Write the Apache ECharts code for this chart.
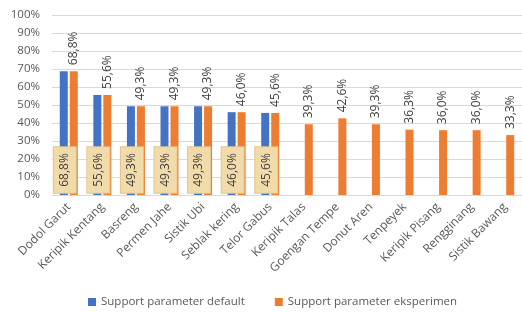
<!DOCTYPE html>
<html><head><meta charset="utf-8">
<script src="https://cdn.jsdelivr.net/npm/echarts@6/dist/echarts.min.js"></script>
<style>html,body{margin:0;padding:0;background:#fff}#c{width:522px;height:314px}</style>
</head><body><div id="c"></div>
<script>
var categories = ["Dodol Garut","Keripik Kentang","Basreng","Permen Jahe","Sistik Ubi","Seblak kering","Telor Gabus","Keripik Talas","Goengan Tempe","Donut Aren","Tenpeyek","Keripik Pisang","Rengginang","Sistik Bawang"];
var defaultValues = [68.8,55.6,49.3,49.3,49.3,46.0,45.6,null,null,null,null,null,null,null];
var experimentValues = [68.8,55.6,49.3,49.3,49.3,46.0,45.6,39.3,42.6,39.3,36.3,36.0,36.0,33.3];
var yTicks = [0,10,20,30,40,50,60,70,80,90,100];
var seriesNames = ["Support parameter default","Support parameter eksperimen"];

function fmt(v){ return v.toFixed(1).replace('.', ',') + '%'; }
var FONT = 'Open Sans';
var chart = echarts.init(document.getElementById('c'));
chart.setOption({
  animation: false,
  textStyle: {fontFamily: FONT},
  grid: {left: 52, right: -4, top: 15, bottom: 119, containLabel: false},
  legend: {
    top: 291, left: 83, itemWidth: 8, itemHeight: 8, itemGap: 30,
    icon: 'rect',
    textStyle: {color: '#595959', fontSize: 11.5, fontFamily: FONT},
    data: seriesNames
  },
  xAxis: {
    type: 'category', data: categories,
    axisLine: {lineStyle: {color: '#d9d9d9'}},
    axisTick: {show: false},
    axisLabel: {rotate: 45, color: '#595959', fontSize: 12, interval: 0, margin: 10, fontFamily: FONT}
  },
  yAxis: {
    type: 'value', min: yTicks[0], max: yTicks[yTicks.length-1], interval: 10,
    axisLabel: {formatter: '{value}%', color: '#595959', fontSize: 11.5, margin: 12, fontFamily: FONT},
    splitLine: {lineStyle: {color: '#d9d9d9', width: 1}},
    axisLine: {show: false}, axisTick: {show: false}
  },
  series: [
    {
      name: seriesNames[0], type: 'bar', data: defaultValues,
      barWidth: 8, barGap: '25%',
      itemStyle: {color: '#4472c4'},
      label: {
        show: true, position: ['50%', '100%'], offset: [25, 1], rotate: 90,
        align: 'center', verticalAlign: 'middle',
        formatter: function(p){ return fmt(p.value); },
        color: '#404040', fontSize: 12, fontFamily: FONT, lineHeight: 14,
        backgroundColor: '#f2dbab', borderColor: '#e2c58d', borderWidth: 1,
        padding: [4, 6, 4, 6]
      }
    },
    {
      name: seriesNames[1], type: 'bar', data: experimentValues,
      barWidth: 8,
      itemStyle: {color: '#ed7d31'},
      label: {
        show: true, position: 'top', rotate: 90, distance: 6,
        align: 'left', verticalAlign: 'middle',
        formatter: function(p){ return fmt(p.value); },
        color: '#404040', fontSize: 12, fontFamily: FONT
      }
    }
  ]
});
</script></body></html>
